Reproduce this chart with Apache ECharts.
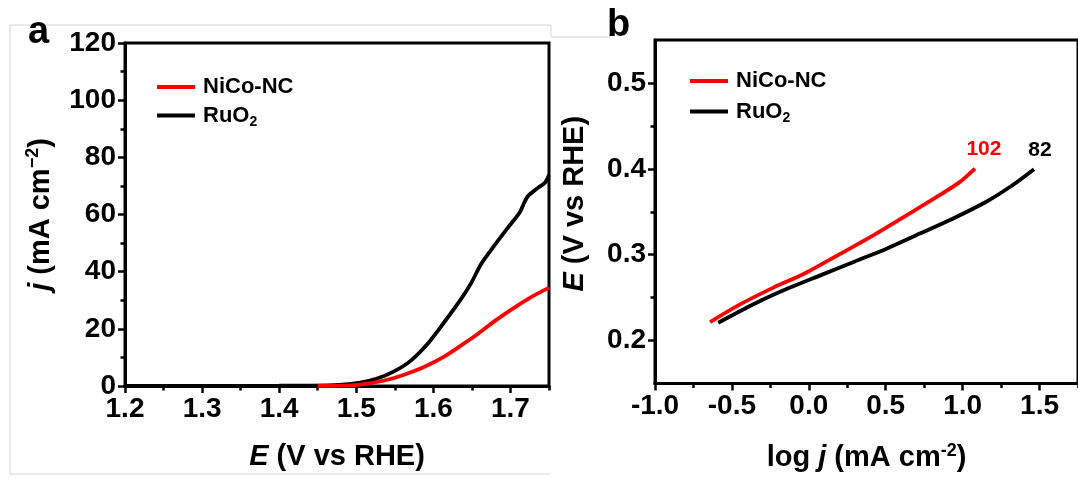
<!DOCTYPE html>
<html>
<head>
<meta charset="utf-8">
<script src="https://cdn.jsdelivr.net/npm/echarts@6/dist/echarts.min.js"></script>
<style>
html,body{margin:0;padding:0;background:#fff;}
#chart{width:1078px;height:479px;}
</style>
</head>
<body>
<div id="chart"></div>
<script>
// ---- Panel a: LSV curves ----
const lsvRuO2E = [1.20, 1.30, 1.40, 1.462, 1.505, 1.527, 1.549, 1.570, 1.592, 1.614, 1.636, 1.649, 1.662, 1.679, 1.697, 1.712, 1.718, 1.723, 1.736, 1.745, 1.75];
const lsvRuO2J = [0, 0.05, 0.1, 0.2, 1.2, 2.6, 5.1, 8.7, 14.6, 22.3, 30.5, 36.0, 42.7, 49.1, 55.5, 60.7, 64.2, 66.5, 69.4, 71.2, 73.8];
const lsvNiCoE = [1.45, 1.483, 1.505, 1.527, 1.549, 1.570, 1.592, 1.614, 1.636, 1.658, 1.679, 1.701, 1.723, 1.75];
const lsvNiCoJ = [0, 0.1, 0.5, 1.4, 2.8, 4.7, 7.2, 10.3, 14.2, 18.3, 22.6, 26.7, 30.5, 34.4];

// ---- Panel b: Tafel plots ----
const tafelNiCoLogJ = [-0.642, -0.450, -0.237, -0.024, 0.189, 0.402, 0.616, 0.829, 0.978, 1.080];
const tafelNiCoE    = [0.2216, 0.2419, 0.2611, 0.2784, 0.2995, 0.3207, 0.3438, 0.3669, 0.3842, 0.4003];
const tafelRuO2LogJ = [-0.589, -0.343, -0.130, 0.083, 0.296, 0.509, 0.722, 0.935, 1.148, 1.319, 1.464];
const tafelRuO2E    = [0.2208, 0.2438, 0.2611, 0.2765, 0.2919, 0.3073, 0.3246, 0.3419, 0.3611, 0.3803, 0.3996];
const tafelSlopes = {NiCo: '102', RuO2: '82'};

// ---- Axes ticks ----
const aXTicks = [1.2, 1.3, 1.4, 1.5, 1.6, 1.7];
const aXMinor = [1.25, 1.35, 1.45, 1.55, 1.65, 1.75];
const aYTicks = [0, 20, 40, 60, 80, 100, 120];
const aYMinor = [10, 30, 50, 70, 90, 110];
const bXTicks = [-1.0, -0.5, 0.0, 0.5, 1.0, 1.5];
const bXMinor = [-0.75, -0.25, 0.25, 0.75, 1.25, 1.75];
const bYTicks = [0.2, 0.3, 0.4, 0.5];
const bYMinor = [0.25, 0.35, 0.45];

const names = {nico: 'NiCo-NC', ruo2: 'RuO2'};
const RED = '#ff0000', BLACK = '#000000';
const FONT = "'Liberation Sans', Arial, Helvetica, sans-serif";

function zip(a, b) { return a.map((v, i) => [v, b[i]]); }

function mainAxis(gridIndex, min, max, ticks, decimals, position, nameText, nameGap, rich, namePad) {
  return {
    type: 'value', gridIndex, min, max, position,
    name: nameText, nameLocation: 'middle', nameGap,
    nameTextStyle: {fontFamily: FONT, fontSize: 29, fontWeight: 'bold', color: '#000', rich, padding: namePad || 0},
    axisLine: {show: true, onZero: false, lineStyle: {color: '#000', width: 3}},
    axisTick: {show: true, inside: false, length: 7, lineStyle: {color: '#000', width: 2.5}, customValues: ticks},
    axisLabel: {show: true, margin: 9, fontFamily: FONT, fontSize: 28, fontWeight: 'bold', color: '#000',
      customValues: ticks, formatter: v => Number(v).toFixed(decimals)},
    splitLine: {show: false}
  };
}
function minorAxis(gridIndex, min, max, ticks, position) {
  return {
    type: 'value', gridIndex, min, max, position,
    axisLine: {show: true, onZero: false, lineStyle: {color: '#000', width: 3, opacity: 0}},
    axisTick: {show: true, inside: false, length: 4.5, lineStyle: {color: '#000', width: 2.5}, customValues: ticks},
    axisLabel: {show: false},
    splitLine: {show: false}
  };
}

const nameRich = {
  i: {fontFamily: FONT, fontSize: 29, fontWeight: 'bold', fontStyle: 'italic', color: '#000'},
  n: {fontFamily: FONT, fontSize: 29, fontWeight: 'bold', color: '#000'},
  s: {fontFamily: FONT, fontSize: 18, fontWeight: 'bold', color: '#000', lineHeight: 18, padding: [0, 0, 14, 0]}
};

const legendRich = {
  n: {fontFamily: FONT, fontSize: 22, fontWeight: 'bold', color: '#000', lineHeight: 26, padding: [0, 0, 0, 3]},
  s: {fontFamily: FONT, fontSize: 14, fontWeight: 'bold', color: '#000', lineHeight: 14, padding: [13, 0, 0, 0]}
};
function legendFmt(name) {
  return name === names.ruo2 ? '{n|RuO}{s|2}' : '{n|' + name + '}';
}
function legend(left, top, gap) {
  return {
    data: [names.nico, names.ruo2], orient: 'vertical', left, top, padding: 0, itemGap: gap,
    icon: 'rect', itemWidth: 38, itemHeight: 4, selectedMode: false,
    formatter: legendFmt, textStyle: {rich: legendRich}
  };
}

function endLabel(x, y, text, color, dx) {
  return {
    symbol: 'circle', symbolSize: 1, itemStyle: {color: 'transparent'}, silent: true,
    data: [{coord: [x, y]}],
    label: {show: true, position: 'inside', offset: [dx, -19], formatter: text,
      fontFamily: FONT, fontSize: 21, fontWeight: 'bold', color}
  };
}

const LW = 3.8;
const chart = echarts.init(document.getElementById('chart'), null, {renderer: 'canvas'});
chart.setOption({
  animation: false,
  backgroundColor: '#fff',
  grid: [
    {left: 125, top: 43, width: 424, bottom: 93, show: true, borderColor: '#000', borderWidth: 3, backgroundColor: 'transparent'},
    {left: 655, top: 40, right: -6, bottom: 93, show: true, borderColor: '#000', borderWidth: 3, backgroundColor: 'transparent'}
  ],
  xAxis: [
    mainAxis(0, 1.2, 1.75, aXTicks, 1, 'bottom', '{i|E} (V vs RHE)', 56, nameRich),
    minorAxis(0, 1.2, 1.75, aXMinor, 'bottom'),
    mainAxis(1, -1.0, 1.75, bXTicks, 1, 'bottom', 'log {i|j} (mA cm{s|-2})', 60, nameRich),
    minorAxis(1, -1.0, 1.75, bXMinor, 'bottom')
  ],
  yAxis: [
    mainAxis(0, 0, 120, aYTicks, 0, 'left', '{i|j} (mA cm{s|\u22122})', 70, nameRich),
    minorAxis(0, 0, 120, aYMinor, 'left'),
    mainAxis(1, 0.15, 0.55, bYTicks, 1, 'left', '{i|E} (V vs RHE)', 66, nameRich, [0, 0, 0, 16]),
    minorAxis(1, 0.15, 0.55, bYMinor, 'left')
  ],
  legend: [legend(157, 76, 4), legend(690, 70, 6)],
  series: [
    {name: names.ruo2, type: 'line', xAxisIndex: 0, yAxisIndex: 0, data: zip(lsvRuO2E, lsvRuO2J),
      showSymbol: false, symbol: 'none', smooth: 0.3, color: BLACK, lineStyle: {color: BLACK, width: LW}},
    {name: names.nico, type: 'line', xAxisIndex: 0, yAxisIndex: 0, data: zip(lsvNiCoE, lsvNiCoJ),
      showSymbol: false, symbol: 'none', smooth: 0.3, color: RED, lineStyle: {color: RED, width: LW}},
    {name: names.ruo2, type: 'line', xAxisIndex: 2, yAxisIndex: 2, data: zip(tafelRuO2LogJ, tafelRuO2E),
      showSymbol: false, symbol: 'none', smooth: 0.3, color: BLACK, lineStyle: {color: BLACK, width: LW},
      markPoint: endLabel(tafelRuO2LogJ[tafelRuO2LogJ.length - 1], tafelRuO2E[tafelRuO2E.length - 1], tafelSlopes.RuO2, BLACK, 6)},
    {name: names.nico, type: 'line', xAxisIndex: 2, yAxisIndex: 2, data: zip(tafelNiCoLogJ, tafelNiCoE),
      showSymbol: false, symbol: 'none', smooth: 0.3, color: RED, lineStyle: {color: RED, width: LW},
      markPoint: endLabel(tafelNiCoLogJ[tafelNiCoLogJ.length - 1], tafelNiCoE[tafelNiCoE.length - 1], tafelSlopes.NiCo, RED, 9)}
  ],
  graphic: [
    {type: 'polyline', silent: true, shape: {points: [[551, 25], [10, 25], [10, 474], [550, 474]]},
      style: {stroke: '#d4d4d4', lineWidth: 1, fill: null}},
    {type: 'polyline', silent: true, shape: {points: [[551, 25], [551, 37], [610, 37]]},
      style: {stroke: '#d4d4d4', lineWidth: 1, fill: null}},
    {type: 'text', left: 28, top: 14, silent: true,
      style: {text: 'a', font: 'bold 38px ' + FONT, fill: '#000'}},
    {type: 'text', left: 607, top: 7, silent: true,
      style: {text: 'b', font: 'bold 38px ' + FONT, fill: '#000'}}
  ]
});
</script>
</body>
</html>
